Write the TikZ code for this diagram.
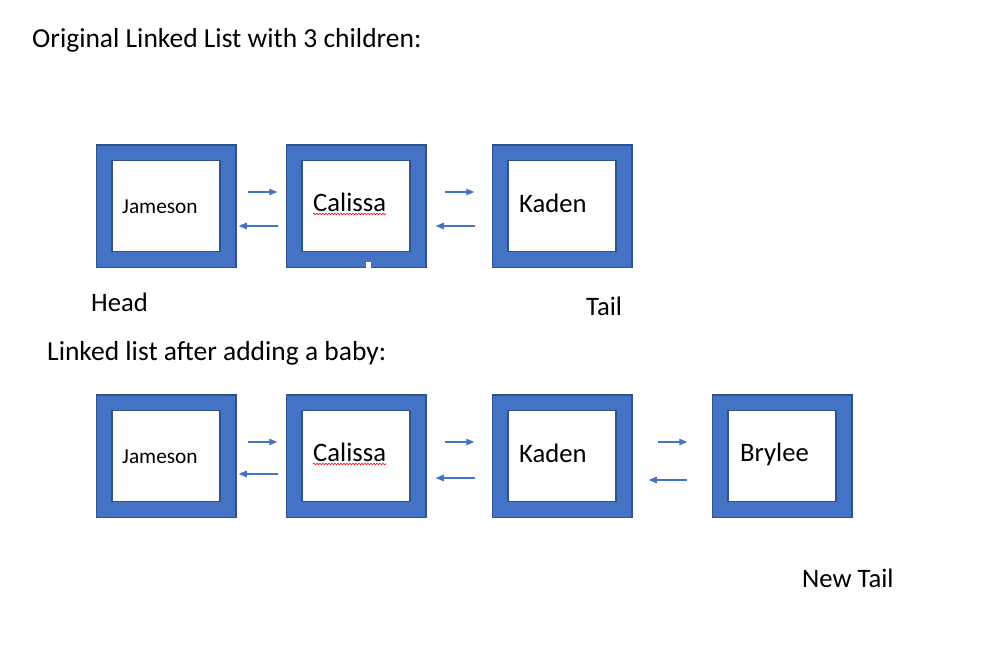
\documentclass[tikz,border=0pt]{standalone}
\usepackage{fontspec}
\setmainfont{Carlito}
\usetikzlibrary{arrows.meta,decorations.pathmorphing}
\definecolor{boxblue}{HTML}{4472C4}
\definecolor{boxedge}{HTML}{2F528F}
\begin{document}
\begin{tikzpicture}[x=1pt, y=-1pt, line join=miter, >={Triangle[length=8pt,width=6.5pt]},
  listbox/.style={draw=boxedge, fill=white, line width=1.5pt, minimum width=108pt, minimum height=91pt, inner sep=0pt,
    preaction={draw=boxedge, line width=33pt}, preaction={draw=boxblue, line width=30pt}},
  txt/.style={anchor=base west, inner sep=0pt, font=\fontsize{26.67}{32}\selectfont},
  heading/.style={txt, font=\fontsize{27.5}{33}\selectfont},
  small/.style={txt, font=\fontsize{21.33}{26}\selectfont},
  link/.style={->, boxblue, line width=1.2pt},
  squiggle/.style={red, line width=0.6pt, decorate, decoration={snake, amplitude=0.8pt, segment length=3pt}}]
\useasboundingbox (0,0) rectangle (994,645);
\node[heading] (title1) at (32,47) {Original Linked List with 3 children:};
% original list
\node[listbox] (j1) at (166,206) {};
\node[listbox] (c1) at (356,206) {};
\node[listbox] (k1) at (562,206) {};
\fill[white] (366,262) rectangle (371,268);
\node[small] (tj1) at (122,213) {Jameson};
\node[txt] (tc1) at (313,211) {Calissa};
\node[txt] (tk1) at (519,212) {Kaden};
\draw[squiggle] ([yshift=-3pt]tc1.base west) -- ([yshift=-3pt]tc1.base east);
\draw[link] ([xshift=27pt,yshift=14pt]j1.east) -- ([xshift=-24pt,yshift=14pt]c1.west);
\draw[link] ([xshift=-23pt,yshift=-20pt]c1.west) -- ([xshift=18pt,yshift=-20pt]j1.east);
\draw[link] ([xshift=34pt,yshift=14pt]c1.east) -- ([xshift=-33pt,yshift=14pt]k1.west);
\draw[link] ([xshift=-32pt,yshift=-20pt]k1.west) -- ([xshift=25pt,yshift=-20pt]c1.east);
\node[txt] (head) at (91,311) {Head};
\node[txt] (tail) at (586,315) {Tail};
% after adding a baby
\node[heading] (title2) at (47,360) {Linked list after adding a baby:};
\node[listbox] (j2) at (166,456) {};
\node[listbox] (c2) at (356,456) {};
\node[listbox] (k2) at (562,456) {};
\node[listbox] (b2) at (782,456) {};
\node[small] (tj2) at (122,463) {Jameson};
\node[txt] (tc2) at (313,461) {Calissa};
\node[txt] (tk2) at (519,462) {Kaden};
\node[txt] (tb2) at (740,461) {Brylee};
\draw[squiggle] ([yshift=-3pt]tc2.base west) -- ([yshift=-3pt]tc2.base east);
\draw[link] ([xshift=27pt,yshift=14pt]j2.east) -- ([xshift=-24pt,yshift=14pt]c2.west);
\draw[link] ([xshift=-23pt,yshift=-18pt]c2.west) -- ([xshift=18pt,yshift=-18pt]j2.east);
\draw[link] ([xshift=34pt,yshift=14pt]c2.east) -- ([xshift=-33pt,yshift=14pt]k2.west);
\draw[link] ([xshift=-32pt,yshift=-22pt]k2.west) -- ([xshift=25pt,yshift=-22pt]c2.east);
\draw[link] ([xshift=41pt,yshift=14pt]k2.east) -- ([xshift=-40pt,yshift=14pt]b2.west);
\draw[link] ([xshift=-40pt,yshift=-24pt]b2.west) -- ([xshift=32pt,yshift=-24pt]k2.east);
\node[txt] (newtail) at (802,587) {New Tail};
\end{tikzpicture}
\end{document}
